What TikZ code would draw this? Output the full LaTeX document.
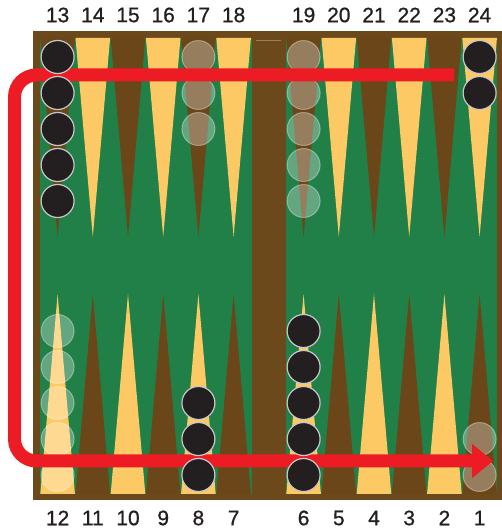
\documentclass[tikz,border=0pt]{standalone}
\usepackage{fontspec}
\setmainfont{Liberation Sans}
\newfontfamily\numfont[FakeBold=0.8]{Liberation Sans}
\usetikzlibrary{arrows.meta,positioning}
\definecolor{felt}{RGB}{33,128,72}
\definecolor{wood}{RGB}{107,73,26}
\definecolor{darkpt}{RGB}{106,70,25}
\definecolor{lightpt}{RGB}{253,201,100}
\definecolor{movered}{RGB}{237,28,36}
\definecolor{stone}{RGB}{35,31,32}

\begin{document}
\begin{tikzpicture}[
  x=1pt, y=1pt,
  num/.style={font=\numfont\fontsize{21}{21}\selectfont, text=stone, inner sep=0pt},
  blackstone/.style={circle, fill=stone, draw=black!22, line width=1.2pt, minimum size=33pt, inner sep=0pt},
  ghost/.style={circle, fill=white, fill opacity=0.3, draw=white, draw opacity=0.35, line width=1pt, minimum size=33pt, inner sep=0pt},
  movearrow/.style={draw=movered, line width=13pt, rounded corners=22pt, -{Triangle[length=21pt, width=33pt]}}
]
\useasboundingbox (0,0) rectangle (502,530);

% board and bar
\fill[wood] (33,30) rectangle (502,499);
\fill[felt] (40,36) rectangle (252,492);
\fill[felt] (286,36) rectangle (497,492);
\draw[wood!70!white, line width=1pt] (256,489) -- (281,489);

% points and numbers
\foreach \c [evaluate=\c as \px using {57.6+35.2*\c+34.8*(\c>5)},
             evaluate=\c as \topnum using {int(13+\c)},
             evaluate=\c as \botnum using {int(12-\c)}] in {0,...,11} {
  \ifodd\c \def\topcol{lightpt}\def\botcol{darkpt}\else \def\topcol{darkpt}\def\botcol{lightpt}\fi
  \fill[\topcol] (\px-17.3,492) -- (\px+17.3,492) -- (\px,293) -- cycle;
  \fill[\botcol] (\px-17.3,36) -- (\px+17.3,36) -- (\px,236) -- cycle;
  \node[num] (top\topnum) at (\px,515) {\topnum};
  \node[num] (bot\botnum) at (\px,12) {\botnum};
}

% opponent checkers (faded)
\foreach \k in {1,2,3} \node[ghost] (p17s\k) at (198.4,509-36*\k) {};
\foreach \k in {1,...,5} \node[ghost] (p19s\k) at (303.6,509-36*\k) {};
\foreach \k in {1,...,5} \node[ghost] (p12s\k) at (57.6,19+36*\k) {};
\foreach \k in {1,2} \node[ghost] (p1s\k) at (479.6,19+36*\k) {};

% the move
\coordinate (movestart) at (454,455);
\coordinate (moveend) at (493,69);
\coordinate (lane) at (14.5,0);
\draw[movearrow] (movestart) -- (movestart -| lane) -- (moveend -| lane) -- (moveend);

% black checkers
\foreach \k in {1,...,5} \node[blackstone] (p13s\k) at (57.6,509-36*\k) {};
\foreach \k in {1,2} \node[blackstone] (p24s\k) at (479.6,509-36*\k) {};
\foreach \k in {1,2,3} \node[blackstone] (p8s\k) at (198.4,19+36*\k) {};
\foreach \k in {1,...,5} \node[blackstone] (p6s\k) at (303.6,19+36*\k) {};
\end{tikzpicture}
\end{document}
